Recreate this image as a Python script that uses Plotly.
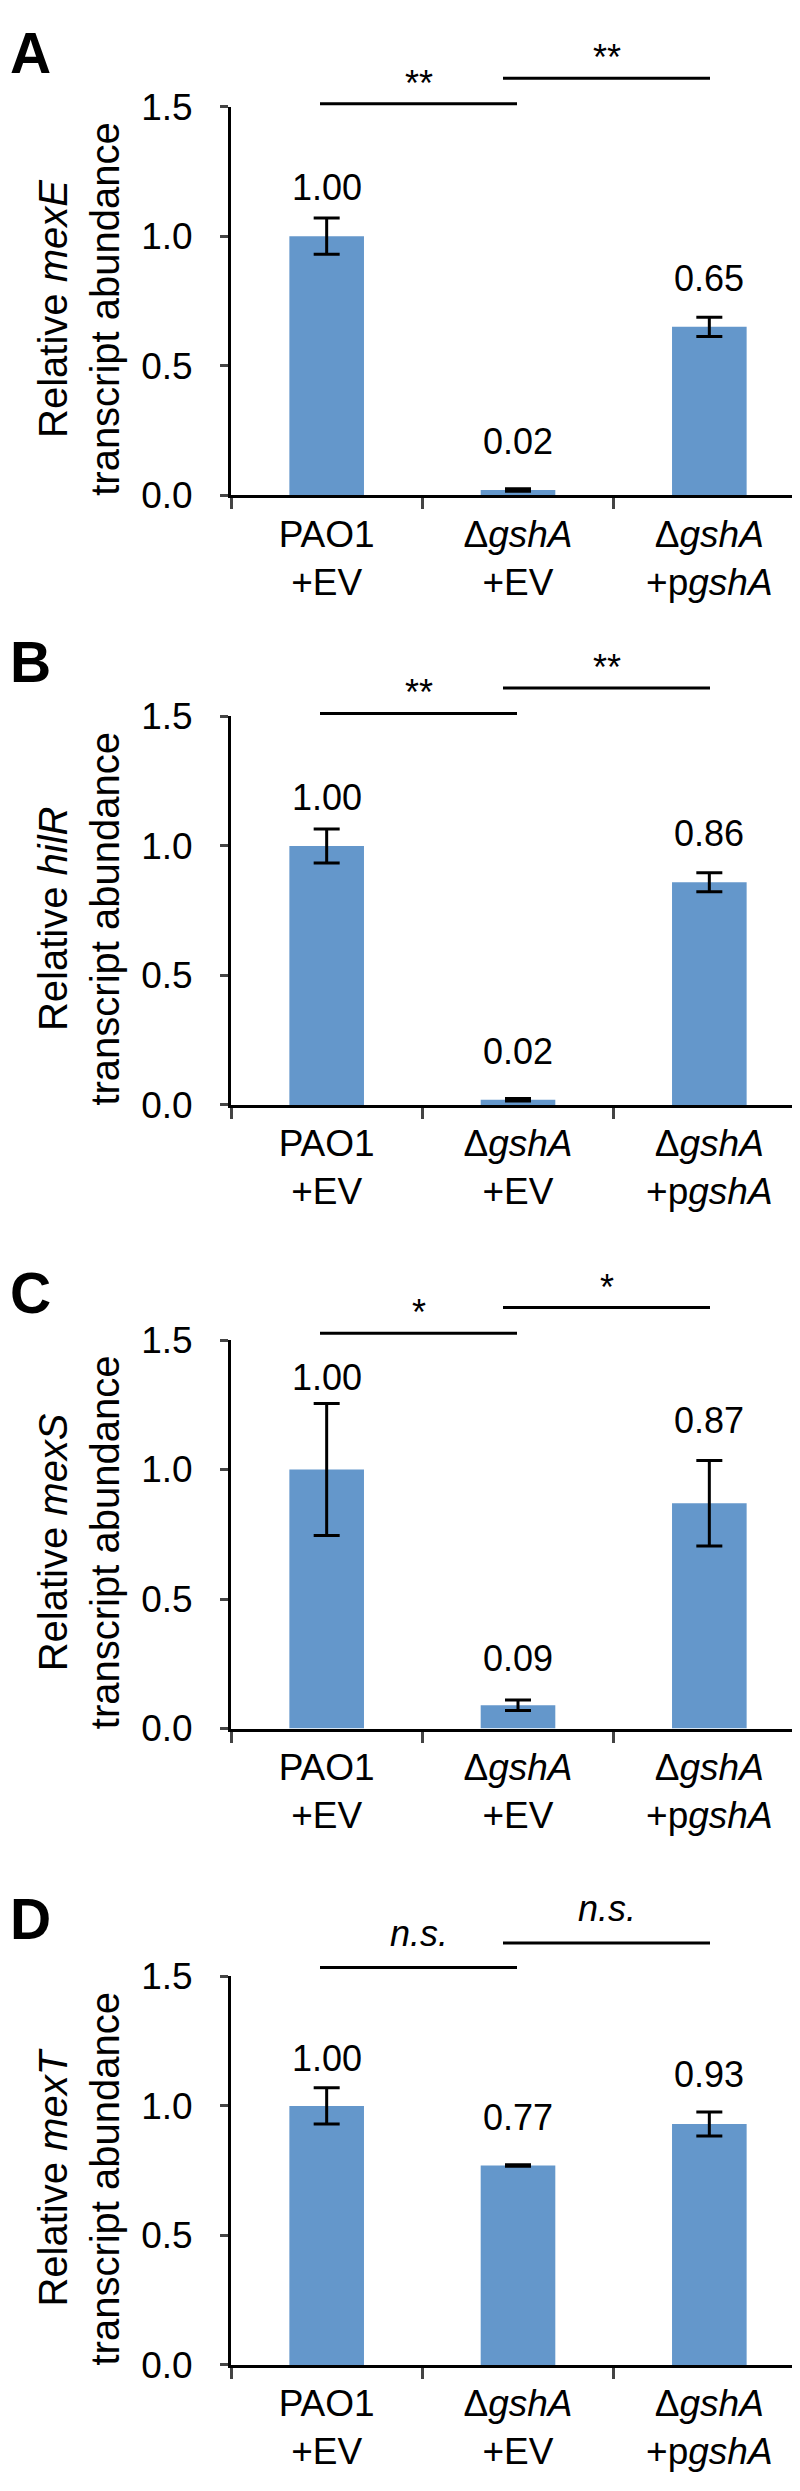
import plotly.graph_objects as go
from plotly.subplots import make_subplots

# data
categories = ["PAO1 +EV", "dgshA +EV", "dgshA +pgshA"]
tick_labels = ["PAO1<br>+EV", "Δ<i>gshA</i><br>+EV", "Δ<i>gshA</i><br>+p<i>gshA</i>"]
panel_letters = ["A", "B", "C", "D"]
genes = ["mexE", "hilR", "mexS", "mexT"]

mexE_vals = [1.00, 0.02, 0.65]
mexE_err = [0.07, 0.005, 0.037]
hilR_vals = [1.00, 0.02, 0.86]
hilR_err = [0.066, 0.005, 0.037]
mexS_vals = [1.00, 0.09, 0.87]
mexS_err = [0.255, 0.02, 0.165]
mexT_vals = [1.00, 0.77, 0.93]
mexT_err = [0.07, 0.003, 0.046]

sig_labels = [["**", "**"], ["**", "**"], ["*", "*"], ["<i>n.s.</i>", "<i>n.s.</i>"]]

y_ticks = [0, 0.5, 1.0, 1.5]

values = [mexE_vals, hilR_vals, mexS_vals, mexT_vals]
errors = [mexE_err, hilR_err, mexS_err, mexT_err]

# layout (pixels in the 800 x 2491 page)
W, H = 800, 2491
FONT = "Liberation Sans, Arial, Helvetica, sans-serif"
BAR_COLOR = "#6497CB"
x_left, x_right = 223, 797
axis_top = [80, 700, 1334, 1981]
axis_h = 395
line1_y = [77, 697, 1327, 1972]
line2_y = [51, 671, 1301, 1947]
text_lift = [7, 7, 7, 21]
letter_y = [25, 645, 1286, 1923]
# how far the value label baseline sits above the bar top (px)
label_lift = [[35, 35, 35], [35, 35, 35], [79, 33, 69], [34, 34, 36]]


def px(x):
    return x / W


def py(y):
    return 1 - y / H


fig = make_subplots(rows=4, cols=1)

for i in range(4):
    r = i + 1
    fig.add_trace(
        go.Bar(
            x=categories,
            y=values[i],
            width=0.39,
            marker=dict(color=BAR_COLOR, line=dict(width=0)),
            error_y=dict(type="data", array=errors[i], color="black", thickness=3, width=13),
            showlegend=False,
        ),
        row=r, col=1,
    )
    xa = "xaxis" if i == 0 else f"xaxis{r}"
    ya = "yaxis" if i == 0 else f"yaxis{r}"
    fig.layout[xa].update(
        domain=[px(x_left), px(x_right)],
        tickvals=categories, ticktext=tick_labels,
        tickson="boundaries", ticks="outside", ticklen=11, tickwidth=3,
        showline=True, linewidth=3, linecolor="black", showgrid=False,
        tickfont=dict(size=37, color="black", family=FONT),
        ticklabelstandoff=4,
    )
    fig.layout[ya].update(
        domain=[py(axis_top[i] + axis_h), py(axis_top[i])],
        range=[0, 1.5], tickvals=y_ticks, tickformat=".1f",
        ticks="outside", ticklen=8, tickwidth=3,
        showline=True, linewidth=3, linecolor="black", showgrid=False, zeroline=False,
        tickfont=dict(size=37, color="black", family=FONT),
        ticklabelstandoff=20,
    )

    xr = "x" if i == 0 else f"x{r}"
    yr = "y" if i == 0 else f"y{r}"
    # value labels
    for j, (c, v) in enumerate(zip(categories, values[i])):
        fig.add_annotation(
            x=c, y=v, xref=xr, yref=yr, text=f"{v:.2f}", showarrow=False,
            yanchor="bottom", yshift=label_lift[i][j] - 9,
            font=dict(size=36, color="black", family=FONT),
        )

    # significance lines and marks
    for (xa0, xa1, ly, lab) in [(312, 509, line1_y[i], sig_labels[i][0]),
                                (495, 702, line2_y[i], sig_labels[i][1])]:
        fig.add_shape(
            type="line", xref="paper", yref="paper",
            x0=px(xa0), x1=px(xa1), y0=py(ly), y1=py(ly),
            line=dict(color="black", width=3),
        )
        fig.add_annotation(
            x=px((xa0 + xa1) / 2), y=py(ly - text_lift[i] + 9), xref="paper", yref="paper",
            text=lab, showarrow=False, xanchor="center", yanchor="bottom",
            font=dict(size=36, color="black", family=FONT),
        )

    # y title
    fig.add_annotation(
        x=px(71), y=py(axis_top[i] + axis_h / 2 + 8), xref="paper", yref="paper",
        text=f"Relative <i>{genes[i]}</i><br>transcript abundance", textangle=-90,
        showarrow=False, xanchor="center", yanchor="middle",
        font=dict(size=40, color="black", family=FONT),
    )

    # panel letter
    fig.add_annotation(
        x=px(0), y=py(letter_y[i]), xref="paper", yref="paper",
        text=f"<b>{panel_letters[i]}</b>", showarrow=False, xanchor="left", yanchor="middle",
        font=dict(size=57, color="black", family=FONT),
    )

fig.update_layout(
    width=W, height=H, margin=dict(l=0, r=0, t=0, b=0),
    paper_bgcolor="white", plot_bgcolor="white",
    bargap=0.61,
)

fig.write_html("out.html")
